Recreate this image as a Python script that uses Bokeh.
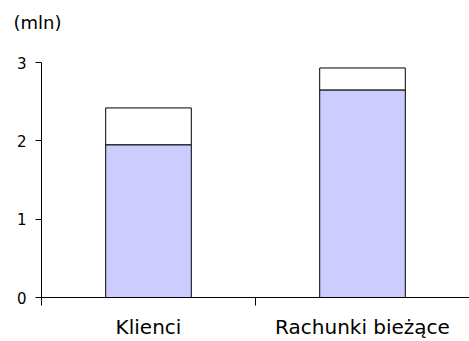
from bokeh.plotting import figure
from bokeh.models import Range1d, FixedTicker, ColumnDataSource, Title
from bokeh.embed import file_html
from bokeh.resources import INLINE

categories = ["Klienci", "Rachunki bieżące"]
base_values = [1.95, 2.65]
extra_values = [0.47, 0.28]
y_ticks = [0, 1, 2, 3]
unit_label = "(mln)"

xs = [i + 0.5 for i in range(len(categories))]
src = ColumnDataSource(dict(x=xs, base=base_values, extra=extra_values))

p = figure(width=469, height=341, output_backend="svg", toolbar_location=None,
           x_range=Range1d(0, len(categories)), y_range=Range1d(0, 3),
           min_border_left=41, min_border_right=0, min_border_top=62, min_border_bottom=44)

p.vbar_stack(["base", "extra"], x="x", width=0.4, source=src,
             fill_color=["#CCCCFF", "#FFFFFF"], line_color="black", line_width=1)

# real unit title is the outermost; an empty spacer title sits next to the frame
p.title.text = unit_label
p.title.text_font = "DejaVu Sans"
p.title.text_font_size = "18px"
p.title.text_font_style = "normal"
p.title.text_color = "black"
p.title.offset = -28
p.title.standoff = 0
p.add_layout(Title(text=" ", text_font_size="18px", standoff=8), "above")

p.outline_line_color = None
p.xgrid.grid_line_color = None
p.ygrid.grid_line_color = None

p.yaxis.ticker = FixedTicker(ticks=y_ticks)
p.yaxis.minor_tick_line_color = None
p.yaxis.major_tick_out = 6
p.yaxis.major_tick_in = 0
p.yaxis.axis_line_color = "black"
p.yaxis.major_label_text_font = "DejaVu Sans"
p.yaxis.major_label_text_font_size = "15px"
p.yaxis.major_label_text_color = "black"
p.yaxis.major_label_standoff = 9

p.xaxis.ticker = FixedTicker(ticks=xs, minor_ticks=list(range(len(categories) + 1)))
p.xaxis.major_label_overrides = {x: c for x, c in zip(xs, categories)}
p.xaxis.major_tick_line_color = None
p.xaxis.minor_tick_line_color = "black"
p.xaxis.minor_tick_out = 8
p.xaxis.minor_tick_in = 0
p.xaxis.major_tick_out = 0
p.xaxis.major_tick_in = 0
p.xaxis.axis_line_color = "black"
p.xaxis.major_label_text_font = "DejaVu Sans"
p.xaxis.major_label_text_font_size = "20px"
p.xaxis.major_label_text_color = "black"
p.xaxis.major_label_standoff = 9

open("out.html", "w").write(file_html(p, INLINE))
